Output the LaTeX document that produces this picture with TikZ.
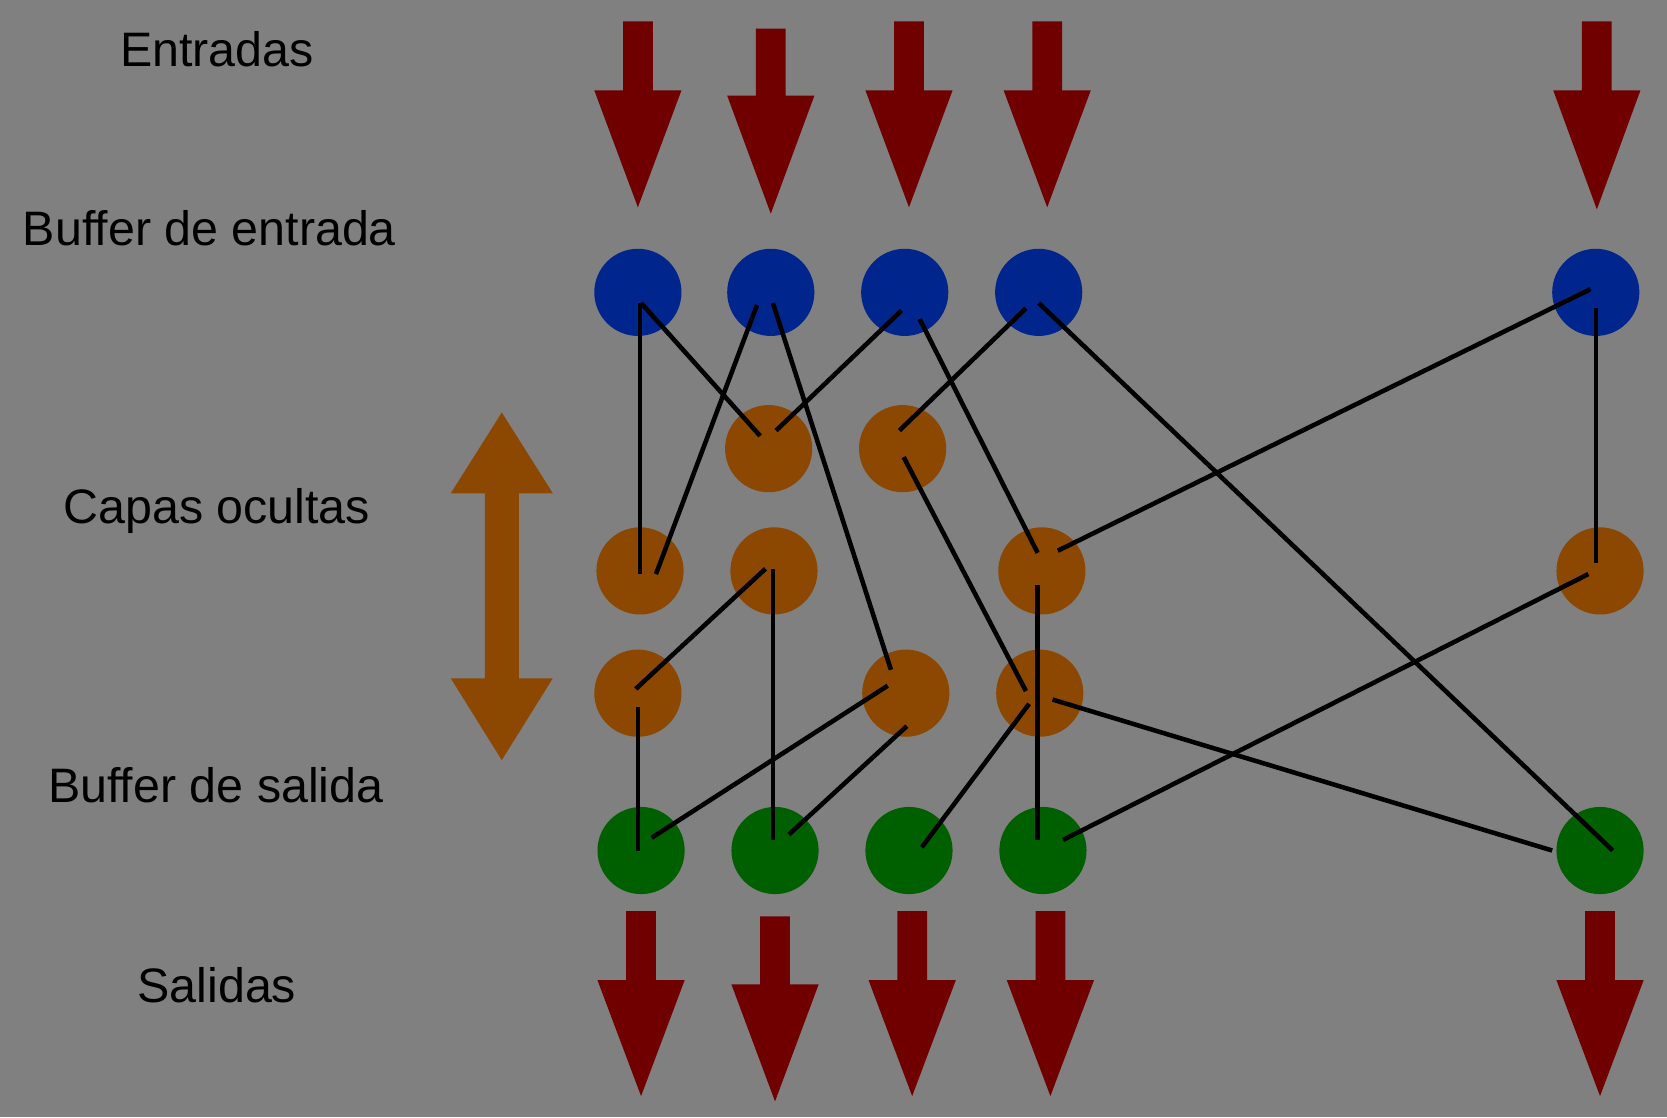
\documentclass[tikz,border=0pt]{standalone}
\usepackage{fontspec}
\setmainfont{Liberation Sans}
\definecolor{bgc}{RGB}{128,128,128}
\definecolor{arrred}{RGB}{112,0,0}
\definecolor{nblue}{RGB}{0,38,142}
\definecolor{norange}{RGB}{140,72,0}
\definecolor{ngreen}{RGB}{0,96,0}
\tikzset{
  lbl/.style={anchor=base, font=\fontsize{45.5}{54}\selectfont, text=black, inner sep=0pt},
  neuron/.style={circle, minimum size=82pt, inner sep=0pt, draw=none},
  inb/.style={neuron, fill=nblue},
  hid/.style={neuron, fill=norange},
  outb/.style={neuron, fill=ngreen},
  link/.style={draw=black, line width=4.3pt},
  pics/downarrow/.style args={#1/#2/#3}{code={
    \fill[arrred] (-14,#1) -- (14,#1) -- (14,#2) -- (41,#2) -- (0,#3) -- (-41,#2) -- (-14,#2) -- cycle;
  }}
}
\begin{document}
\begin{tikzpicture}[x=1pt,y=-1pt]
\fill[bgc] (0,0) rectangle (1568,1051);
\useasboundingbox (0,0) rectangle (1568,1051);

% labels
\node[lbl] (tEnt) at (204,63) {Entradas};
\node[lbl] (tBufE) at (197,231) {Buffer de entrada};
\node[lbl] (tCap) at (204,492) {Capas ocultas};
\node[lbl] (tBufS) at (203,755) {Buffer de salida};
\node[lbl] (tSal) at (204,943) {Salidas};

% input arrows
\pic at (600,0) {downarrow={20/85/195}};
\pic at (725,0) {downarrow={27/90/201}};
\pic at (855,0) {downarrow={20/85/195}};
\pic at (985,0) {downarrow={20/85/195}};
\pic at (1502,0) {downarrow={20/85/197}};

% output arrows
\pic at (603,0) {downarrow={857/922/1031}};
\pic at (729,0) {downarrow={862/926/1036}};
\pic at (858,0) {downarrow={857/922/1031}};
\pic at (988,0) {downarrow={857/922/1031}};
\pic at (1505,0) {downarrow={857/922/1031}};

% double arrow for hidden layers
\fill[norange] (472,388) -- (520,464) -- (488,464) -- (488,638) -- (520,638) -- (472,715)
  -- (424,638) -- (456,638) -- (456,464) -- (424,464) -- cycle;

% neurons
\node[inb] (b1) at (600,275) {};
\node[inb] (b2) at (725,275) {};
\node[inb] (b3) at (851,275) {};
\node[inb] (b4) at (977,275) {};
\node[inb] (b5) at (1501,275) {};

\node[hid] (o11) at (723,422) {};
\node[hid] (o12) at (849,422) {};
\node[hid] (o21) at (602,537) {};
\node[hid] (o22) at (728,537) {};
\node[hid] (o23) at (980,537) {};
\node[hid] (o24) at (1505,537) {};
\node[hid] (o31) at (600,652) {};
\node[hid] (o32) at (852,652) {};
\node[hid] (o33) at (978,652) {};

\node[outb] (g1) at (603,800) {};
\node[outb] (g2) at (729,800) {};
\node[outb] (g3) at (855,800) {};
\node[outb] (g4) at (981,800) {};
\node[outb] (g5) at (1505,800) {};

% connections
\draw[link] ([shift={(2,10)}]b1.center) -- ([shift={(0,3)}]o21.center);
\draw[link] ([shift={(3,10)}]b1.center) -- ([shift={(-8,-12)}]o11.center);
\draw[link] ([shift={(-13,12)}]b2.center) -- ([shift={(15,3)}]o21.center);
\draw[link] ([shift={(2,10)}]b2.center) -- ([shift={(-14,-22)}]o32.center);
\draw[link] ([shift={(-3,17)}]b3.center) -- ([shift={(7,-17)}]o11.center);
\draw[link] ([shift={(14,25)}]b3.center) -- ([shift={(-4,-17)}]o23.center);
\draw[link] ([shift={(-12,15)}]b4.center) -- ([shift={(-3,-17)}]o12.center);
\draw[link] ([shift={(0,10)}]b4.center) -- ([shift={(12,0)}]g5.center);
\draw[link] ([shift={(-5,-3)}]b5.center) -- ([shift={(15,-19)}]o23.center);
\draw[link] ([shift={(0,15)}]b5.center) -- ([shift={(-4,-7)}]o24.center);
\draw[link] ([shift={(1,8)}]o12.center) -- ([shift={(-13,-2)}]o33.center);
\draw[link] ([shift={(-8,-2)}]o22.center) -- ([shift={(-2,-4)}]o31.center);
\draw[link] ([shift={(-1,-2)}]o22.center) -- ([shift={(-2,-10)}]g2.center);
\draw[link] ([shift={(-4,13)}]o23.center) -- ([shift={(-5,-10)}]g4.center);
\draw[link] ([shift={(-11,3)}]o24.center) -- ([shift={(19,-10)}]g4.center);
\draw[link] ([shift={(0,13)}]o31.center) -- ([shift={(-3,0)}]g1.center);
\draw[link] ([shift={(-17,-7)}]o32.center) -- ([shift={(10,-12)}]g1.center);
\draw[link] ([shift={(1,31)}]o32.center) -- ([shift={(13,-15)}]g2.center);
\draw[link] ([shift={(-10,10)}]o33.center) -- ([shift={(12,-3)}]g3.center);
\draw[link] ([shift={(12,6)}]o33.center) -- ([shift={(-45,0)}]g5.center);
\end{tikzpicture}
\end{document}
